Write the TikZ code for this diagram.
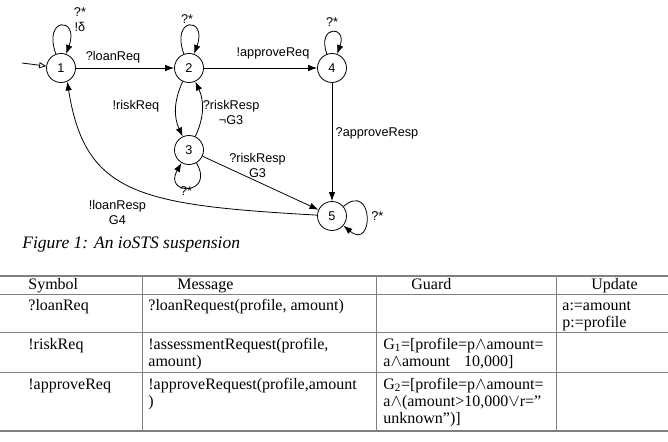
\documentclass[tikz,border=0pt]{standalone}
\usepackage{fontspec}
\setmainfont{Liberation Serif}
\setsansfont{Liberation Sans}
\usetikzlibrary{arrows.meta,positioning}
\definecolor{rulegray}{gray}{0.5}

\begin{document}
\begin{tikzpicture}[x=1pt, y=1pt, line width=0.8pt,
    main/.style = {draw, circle, minimum size=29pt, inner sep=0pt, font=\sffamily\fontsize{12.7}{15}\selectfont},
    lab/.style = {font=\sffamily\fontsize{12.7}{15}\selectfont, align=center, inner sep=0pt},
    cell/.style = {anchor=north west, yshift=11.9pt, inner sep=0pt, align=left, font=\fontsize{16}{17}\selectfont},
    >={Latex[length=9pt, width=6.5pt]}]
    \useasboundingbox (0,0) rectangle (668,-441);

    \node[main] (1) at (61,-68) {1};
    \node[main] (2) at (189,-68) {2};
    \node[main] (4) at (332,-68) {4};
    \node[main] (3) at (189,-150) {3};
    \node[main] (5) at (332,-216) {5};

    \coordinate (start) at (22,-63);
    \draw [-{Triangle[open, length=7pt, width=6pt]}] (start) -- (1);

    \draw [->] (1) to [out=110, in=70, min distance=40pt] node (l1) [lab, midway, xshift=19pt, yshift=6pt] {?*\\!δ} (1);
    \draw [->] (2) to [out=110, in=70, min distance=40pt] node (l2) [lab, midway, xshift=-2pt, yshift=7pt] {?*} (2);
    \draw [->] (4) to [out=110, in=70, min distance=31pt] node (l4) [lab, midway, yshift=10pt] {?*} (4);
    \draw [->] (3) to [out=-60, in=-120, min distance=38pt] node (l3) [lab, midway, xshift=-3pt, yshift=-3pt] {?*} (3);
    \draw [->] (5) to [out=40, in=-40, min distance=40pt] node (l5) [lab, midway, xshift=11pt] {?*} (5);

    \draw [->] (1) -- (2) node (l12) [lab, midway, xshift=-12pt, yshift=11pt] {?loanReq};
    \draw [->] (2) -- (4) node (l24) [lab, midway, xshift=12.5pt, yshift=15pt] {!approveReq};
    \draw [->] (4) -- (5) node (l45) [lab, midway, xshift=45pt, yshift=9pt] {?approveResp};
    \draw [->] (2) to [bend right=25] node (l23) [lab, midway, xshift=-40pt, yshift=3pt] {!riskReq} (3);
    \draw [->] (3) to [bend right=25] node (l32) [lab, midway, xshift=29pt, yshift=-3pt] {?riskResp\\¬G3} (2);
    \draw [->] (3) -- (5) node (l35) [lab, midway, xshift=-3pt, yshift=18pt] {?riskResp\\G3};
    \draw [->] (5) .. controls (140,-205) and (85,-195) .. (1.-65) node (l51) [lab, pos=0.5, xshift=-15pt, yshift=-25pt] {!loanResp\\G4};

    \node (cap) [anchor=base west, inner sep=0pt, font=\itshape\fontsize{17.5}{20}\selectfont] at (22,-248) {Figure 1: An ioSTS suspension};

    \foreach \y/\w in {276/1.6, 294/1, 332/1, 372/1, 431/1.6}
        \draw [rulegray, line width=\w pt] (0,-\y) -- (668,-\y);
    \foreach \x in {142,376,556}
        \draw [rulegray, line width=1pt] (\x,-276) -- (\x,-431);

    \node[cell] (hsym) at (28,-289) {\strut Symbol};
    \node[cell] (hmsg) at (177,-289) {\strut Message};
    \node[cell] (hgrd) at (411,-289) {\strut Guard};
    \node[cell] (hupd) at (591,-289) {\strut Update};

    \node[cell] (s1) at (28,-310) {\strut ?loanReq};
    \node[cell] (m1) at (148,-310) {\strut ?loanRequest(profile, amount)};
    \node[cell] (u1) at (562,-310) {\strut a:=amount\\p:=profile};

    \node[cell] (s2) at (28,-349) {\strut !riskReq};
    \node[cell] (m2) at (148,-349) {\strut !assessmentRequest(profile,\\amount)};
    \node[cell] (g2) at (383,-349) {\strut G\textsubscript{1}=[profile=p$\wedge$amount=\\a$\wedge$amount\hspace{14pt}10,000]};

    \node[cell] (s3) at (28,-389) {\strut !approveReq};
    \node[cell] (m3) at (148,-389) {\strut !approveRequest(profile,amount\\)};
    \node[cell] (g3) at (383,-389) {\strut G\textsubscript{2}=[profile=p$\wedge$amount=\\a$\wedge$(amount>10,000$\vee$r=”\\unknown”)]};
\end{tikzpicture}
\end{document}
